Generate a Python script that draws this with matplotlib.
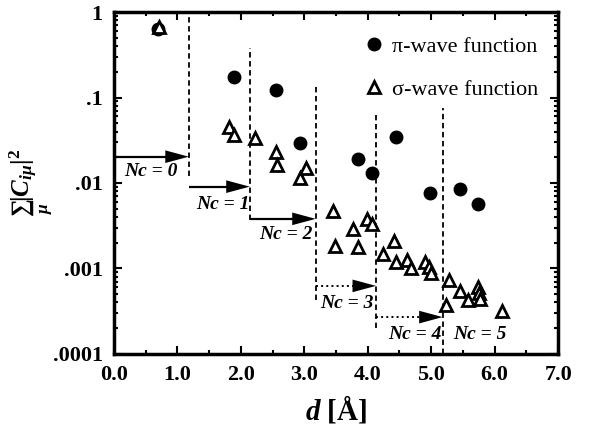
import matplotlib
matplotlib.use('Agg')
import matplotlib.pyplot as plt
from matplotlib.ticker import LogLocator, NullFormatter, MultipleLocator
import numpy as np

plt.rcParams.update({
    'font.family': 'Liberation Serif',
    'mathtext.fontset': 'custom',
    'mathtext.rm': 'Liberation Serif:bold',
    'mathtext.it': 'Liberation Serif:italic:bold',
    'mathtext.bf': 'Liberation Serif:bold',
})

# pi-wave function
pi_d = [0.70, 1.89, 2.56, 2.93, 3.85, 4.06, 4.44, 4.98, 5.45, 5.74]
pi_c = [0.63, 0.172, 0.122, 0.029, 0.0191, 0.0132, 0.0348, 0.0076, 0.0084, 0.0057]

# sigma-wave function
sigma_d = [0.71, 1.81, 1.89, 2.23, 2.55, 2.57, 2.93, 3.03, 3.45, 3.49, 3.77, 3.84,
           3.99, 4.06, 4.24, 4.42, 4.44, 4.62, 4.68, 4.90, 4.97, 5.00, 5.24, 5.28,
           5.45, 5.58, 5.74, 5.76, 5.77, 6.11]
sigma_c = [0.67, 0.0448, 0.0364, 0.0333, 0.0229, 0.0162, 0.0115, 0.0149, 0.00474,
           0.00185, 0.0029, 0.00177, 0.00379, 0.00329, 0.00148, 0.00211, 0.0012,
           0.00126, 0.00100, 0.0012, 0.00105, 0.00089, 0.000374, 0.00073, 0.00055,
           0.00043, 0.00061, 0.00051, 0.00044, 0.00032]

# shell boundaries (dashed lines): x, bottom, top
bound_x = [1.18, 2.14, 3.18, 4.13, 5.18]
bound_lo = [0.0121, 0.0037, 0.00043, 0.0002, 0.0001]
bound_hi = [1.0, 0.38, 0.136, 0.0624, 0.0754]

# Nc arrows: start, end, level
arr_x0 = [0.0, 1.18, 2.14, 3.18, 4.13]
arr_x1 = [1.18, 2.14, 3.18, 4.13, 5.18]
arr_y = [0.0203, 0.00905, 0.0038, 0.000624, 0.000269]
arr_ls = ['-', '-', '-', ':', ':']

# Nc labels
nc_labels = ['Nc = 0', 'Nc = 1', 'Nc = 2', 'Nc = 3', 'Nc = 4', 'Nc = 5']
nc_x = [0.59, 1.72, 2.71, 3.67, 4.75, 5.77]
nc_y = [0.0136, 0.0056, 0.00247, 0.00039, 0.000167, 0.000167]

xticks = [0, 1, 2, 3, 4, 5, 6, 7]
xticklabels = ['0.0', '1.0', '2.0', '3.0', '4.0', '5.0', '6.0', '7.0']
yticks = [1e-4, 1e-3, 1e-2, 1e-1, 1]
yticklabels = ['.0001', '.001', '.01', '.1', '1']

fig = plt.figure(figsize=(5.9, 4.32), dpi=100)
ax = fig.add_axes([0.193, 0.181, 0.753, 0.791])

for x, lo, hi in zip(bound_x, bound_lo, bound_hi):
    ax.vlines(x, lo, hi, colors='black', linestyles=(0, (3, 2)), lw=1.3)

for x0, x1, y, ls in zip(arr_x0, arr_x1, arr_y, arr_ls):
    # shaft
    ax.hlines(y, x0, x1 - 0.15, colors='black', linestyles=ls,
              lw=1.6 if ls == '-' else 1.4)
    # head (filled, no outline)
    ax.annotate('', xy=(x1, y), xytext=(x0, y),
                arrowprops=dict(arrowstyle='-|>,head_length=1.3,head_width=0.35',
                                mutation_scale=13, lw=0.0, color='black',
                                shrinkA=0, shrinkB=0))

for lab, x, y in zip(nc_labels, nc_x, nc_y):
    ax.text(x, y, lab, fontsize=14, style='italic', fontweight='bold',
            ha='center', va='center')

ax.plot(pi_d, pi_c, 'o', color='black', ms=9, label='π-wave function')
ax.plot(sigma_d, sigma_c, '^', mfc='white', mec='black', mew=2, ms=8,
        label='σ-wave function')

ax.set_yscale('log')
ax.set_xlim(0, 7)
ax.set_ylim(1e-4, 1)
ax.set_xticks(xticks)
ax.set_xticklabels(xticklabels)
ax.set_yticks(yticks)
ax.set_yticklabels(yticklabels)
ax.xaxis.set_minor_locator(MultipleLocator(0.5))
ax.yaxis.set_minor_locator(LogLocator(base=10, subs=np.arange(2, 10)))
ax.yaxis.set_minor_formatter(NullFormatter())
ax.tick_params(which='both', direction='in', top=True, right=True, width=1.5)
ax.tick_params(which='major', length=6, labelsize=16, pad=8)
ax.tick_params(which='minor', length=3)
for lab in ax.get_xticklabels() + ax.get_yticklabels():
    lab.set_fontweight('bold')
for sp in ax.spines.values():
    sp.set_linewidth(2.5)

ax.set_xlabel(r'$d$ [Å]', fontsize=21, fontweight='bold', labelpad=6)
ax.set_ylabel(r'$\sum_{\mu}|C_{i\mu}|^2$', fontsize=18, labelpad=-2)

ax.legend(loc='upper right', bbox_to_anchor=(0.99, 0.975), frameon=False,
          fontsize=16, handletextpad=0.3, labelspacing=1.0, borderpad=0.2,
          handlelength=1.0)

plt.savefig('out.png', dpi=100)
plt.close()
